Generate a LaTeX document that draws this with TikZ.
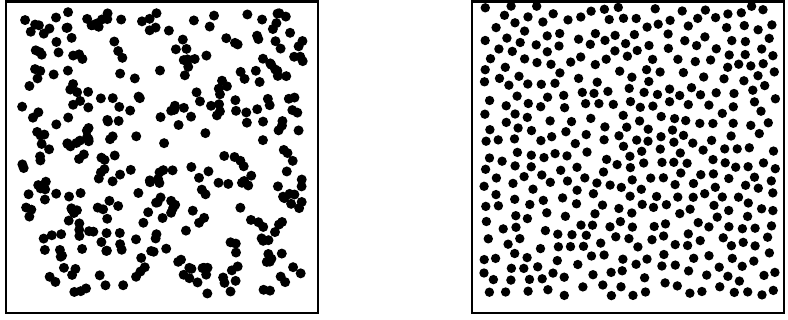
\documentclass[tikz,border=0pt]{standalone}
\newcount\bnX \newcount\bnY \newcount\bnCX \newcount\bnCY \newcount\bnN \newcount\bnD
\newif\ifbnok
\def\bndist#1,#2\relax{%
  \bnD=\numexpr(\bnX-#1)*(\bnX-#1)+(\bnY-#2)*(\bnY-#2)\relax
  \ifnum\bnD<12544 \bnokfalse\fi}
\def\bnCheck#1#2{%
  \expandafter\ifx\csname bn@#1@#2\endcsname\relax\else
    \expandafter\expandafter\expandafter\bndist\csname bn@#1@#2\endcsname\relax
  \fi}
\def\bnRow#1{%
  \bnCheck{#1}{\the\numexpr\bnCY-2\relax}%
  \bnCheck{#1}{\the\numexpr\bnCY-1\relax}%
  \bnCheck{#1}{\the\numexpr\bnCY\relax}%
  \bnCheck{#1}{\the\numexpr\bnCY+1\relax}%
  \bnCheck{#1}{\the\numexpr\bnCY+2\relax}}
\begin{document}
\begin{tikzpicture}[x=1pt,y=-1pt,
  dotfill/.style={fill=black},
  frame/.style={draw=black,line width=2.6pt}]
\useasboundingbox (0,0) rectangle (788,320);
% left panel: uniform random points
\pgfmathsetseed{4242}
\foreach \k in {1,...,335}{
  \pgfmathsetmacro\px{22+281*rnd}
  \pgfmathsetmacro\py{12+283*rnd}
  \fill[dotfill] (\px,\py) circle (5.0);
}
\draw[frame] (6,1.5) rectangle (318,313);
% right panel: dart throwing (blue noise)
\pgfmathsetseed{1234}
\global\bnN=0
\foreach \t in {1,...,9000}{%
  \ifnum\bnN<392
    \pgfmathtruncatemacro\rx{rnd*2920}%
    \pgfmathtruncatemacro\ry{rnd*2900}%
    \bnX=\rx\relax \bnY=\ry\relax
    \bnCX=\bnX \divide\bnCX by 79
    \bnCY=\bnY \divide\bnCY by 79
    \bnoktrue
    \bnRow{\the\numexpr\bnCX-2\relax}%
    \bnRow{\the\numexpr\bnCX-1\relax}%
    \bnRow{\the\numexpr\bnCX\relax}%
    \bnRow{\the\numexpr\bnCX+1\relax}%
    \bnRow{\the\numexpr\bnCX+2\relax}%
    \ifbnok
      \expandafter\xdef\csname bn@\the\bnCX @\the\bnCY\endcsname{\the\bnX,\the\bnY}%
      \global\advance\bnN by 1
      \fill[dotfill] (484+\the\bnX/10,6+\the\bnY/10) circle (4.7);
    \fi
  \fi
}
\draw[frame] (472,1.5) rectangle (784,313);
\end{tikzpicture}
\end{document}
